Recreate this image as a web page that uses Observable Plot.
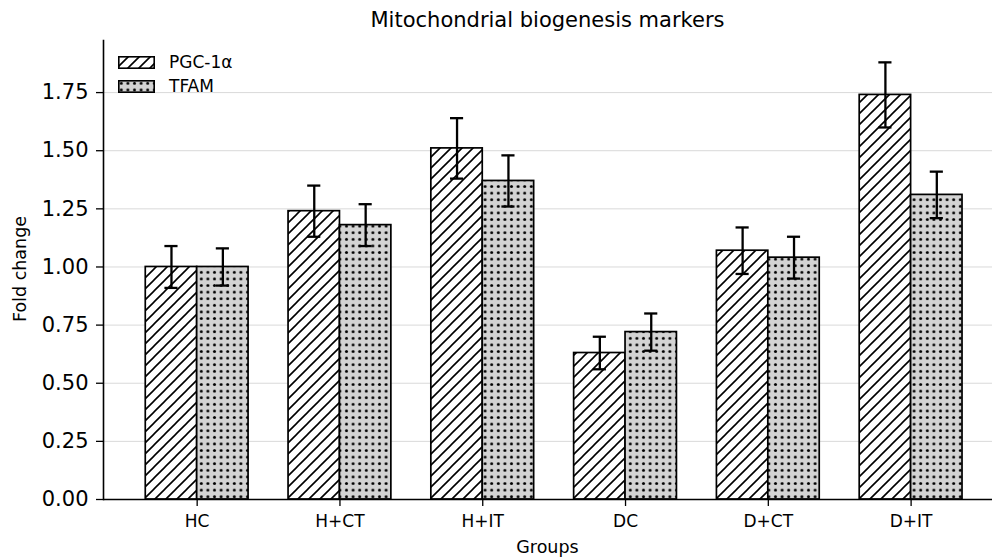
<!DOCTYPE html>
<html><head><meta charset="utf-8">
<script src="https://cdn.jsdelivr.net/npm/d3@7"></script>
<script src="https://cdn.jsdelivr.net/npm/@observablehq/plot@0.6"></script>
<style>
body{margin:0;background:#fff;font-family:"DejaVu Sans",sans-serif;color:#000;}
#wrap{position:relative;width:992px;height:560px;overflow:hidden;background:#fff;}
#title{position:absolute;left:103px;width:889px;top:0;height:40px;line-height:40px;text-align:center;font-size:21px;}
#chart{position:absolute;left:0;top:38px;}
#xlabel{position:absolute;left:103px;width:889px;top:536px;height:22px;line-height:22px;text-align:center;font-size:17.5px;}
#ylabel{position:absolute;left:20px;top:269px;transform:translate(-50%,-50%) rotate(-90deg);font-size:17.5px;white-space:nowrap;}
#legend{position:absolute;left:118px;top:50px;font-size:17px;}
.li{display:flex;align-items:center;height:24px;}
.li svg{margin-right:14px;}
</style></head><body>
<svg width="0" height="0" style="position:absolute"><defs>
<pattern id="hatch" patternUnits="userSpaceOnUse" width="11" height="11">
<rect width="11" height="11" fill="white"/>
<path d="M-2,2 L2,-2 M0,11 L11,0 M9,13 L13,9" stroke="black" stroke-width="1.6"/>
</pattern>
<pattern id="dots" patternUnits="userSpaceOnUse" width="6.6" height="6.6">
<rect width="6.6" height="6.6" fill="#d3d3d3"/>
<circle cx="3.3" cy="3.3" r="1.5" fill="black"/>
</pattern>
</defs></svg>
<div id="wrap">
<div id="title">Mitochondrial biogenesis markers</div>
<div id="chart"></div>
<div id="xlabel">Groups</div>
<div id="ylabel">Fold change</div>
<div id="legend"></div>
</div>
<script>
const groups = ["HC", "H+CT", "H+IT", "DC", "D+CT", "D+IT"];
const series = ["PGC-1α", "TFAM"];
const pgcMean = [1.00, 1.24, 1.51, 0.63, 1.07, 1.74];
const pgcErr = [0.09, 0.11, 0.13, 0.07, 0.10, 0.14];
const tfamMean = [1.00, 1.18, 1.37, 0.72, 1.04, 1.31];
const tfamErr = [0.08, 0.09, 0.11, 0.08, 0.09, 0.10];
const yTicks = [0, 0.25, 0.5, 0.75, 1.0, 1.25, 1.5, 1.75];
const xTicks = groups.map((g, i) => i);
const fills = ["url(#hatch)", "url(#dots)"];

const barWidth = 0.36;
const capHalf = 0.046;

const rows = groups.flatMap((g, i) => [
  {g, i, s: series[0], v: pgcMean[i], e: pgcErr[i], x1: i - barWidth, x2: i},
  {g, i, s: series[1], v: tfamMean[i], e: tfamErr[i], x1: i, x2: i + barWidth}
]).map(d => ({...d, c: (d.x1 + d.x2) / 2, lo: d.v - d.e, hi: d.v + d.e}));
const caps = rows.flatMap(d => [{...d, cy: d.lo}, {...d, cy: d.hi}]);

const chart = Plot.plot({
  width: 992,
  height: 522,
  marginTop: 2,
  marginBottom: 61,
  marginLeft: 103,
  marginRight: 0,
  style: {fontFamily: "DejaVu Sans", background: "white", color: "black"},
  x: {domain: [-0.656, 5.57], axis: null},
  y: {domain: [0, 1.974], axis: null},
  color: {type: "ordinal", domain: series, range: fills},
  marks: [
    Plot.gridY(yTicks, {stroke: "#d9d9d9", strokeOpacity: 1, strokeWidth: 1}),
    Plot.rect(rows, {x1: "x1", x2: "x2", y1: () => 0, y2: "v", fill: "s", stroke: "black", strokeWidth: 1.7}),
    Plot.ruleX(rows, {x: "c", y1: "lo", y2: "hi", stroke: "black", strokeWidth: 2.3}),
    Plot.ruleY(caps, {y: "cy", x1: d => d.c - capHalf, x2: d => d.c + capHalf, stroke: "black", strokeWidth: 2.3}),
    Plot.axisY(yTicks, {tickFormat: d3.format(".2f"), tickSize: 7, tickPadding: 8, fontSize: 21, label: null, strokeWidth: 1.3}),
    Plot.axisX(xTicks, {tickFormat: i => groups[i], tickSize: 7, tickPadding: 8, fontSize: 17, label: null, strokeWidth: 1.3}),
    Plot.ruleY([0], {stroke: "black", strokeWidth: 1.6}),
    Plot.frame({anchor: "left", stroke: "black", strokeWidth: 1.6})
  ]
});
document.getElementById("chart").appendChild(chart);

const legend = document.getElementById("legend");
series.forEach((s, k) => {
  const item = document.createElement("div");
  item.className = "li";
  item.innerHTML = `<svg width="37" height="13"><rect x="0.8" y="0.8" width="35.4" height="11.4" fill="${fills[k]}" stroke="black" stroke-width="1.6"/></svg><span>${s}</span>`;
  legend.appendChild(item);
});
</script>
</body></html>
